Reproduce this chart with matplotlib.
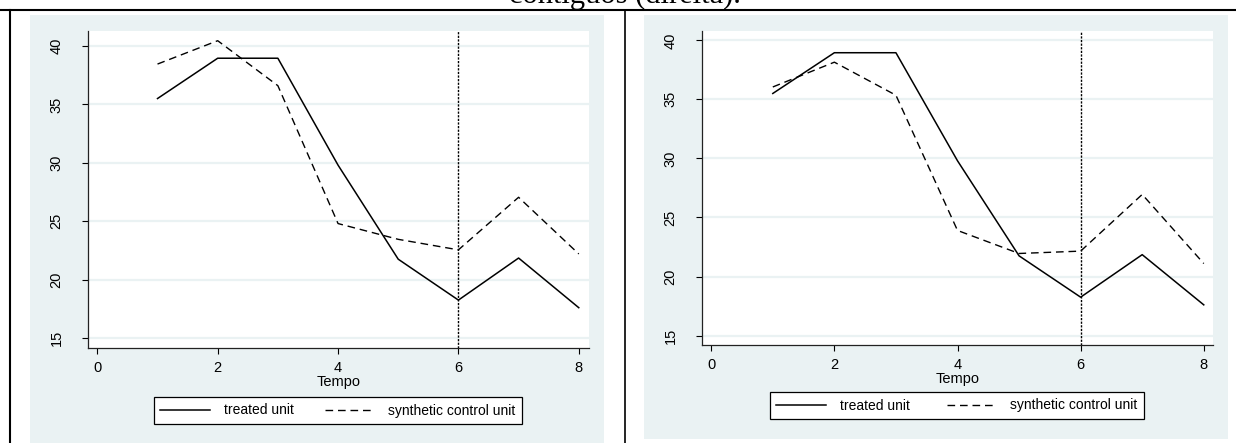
import matplotlib
matplotlib.use("Agg")
import matplotlib.pyplot as plt
from matplotlib.patches import Rectangle
from matplotlib.lines import Line2D

# data
tempo = [1, 2, 3, 4, 5, 6, 7, 8]
treated = [35.5, 38.95, 38.95, 29.8, 21.75, 18.25, 21.85, 17.6]
synth_left = [38.45, 40.45, 36.6, 24.8, 23.45, 22.55, 27.05, 22.2]
synth_right = [36.05, 38.15, 35.35, 23.9, 21.95, 22.15, 26.95, 21.1]
y_ticks = [15, 20, 25, 30, 35, 40]
x_ticks = [0, 2, 4, 6, 8]
intervention = 6
title_tail = "contíguos (direita)."

W, H = 1236, 443
BG = "#EAF2F3"

plt.rcParams['font.family'] = ['Liberation Sans', 'DejaVu Sans']

fig = plt.figure(figsize=(W / 100, H / 100), dpi=100)


def box(x0, y0, x1, y1):
    # pixel box (top-left origin) -> figure fraction rect
    return [x0 / W, 1 - y1 / H, (x1 - x0) / W, (y1 - y0) / H]


def panel(bg, plot_box, xlim, ylim, synth, leg_box):
    b = box(*bg)
    fig.patches.append(Rectangle((b[0], b[1]), b[2], b[3], transform=fig.transFigure,
                                 facecolor=BG, edgecolor='none', zorder=-5))
    ax = fig.add_axes(box(*plot_box))
    ax.set_facecolor('white')
    ax.plot(tempo, treated, color='black', lw=1.1, label='treated unit')
    ax.plot(tempo, synth, color='black', lw=1.0, linestyle=(0, (5.5, 3.5)),
            label='synthetic control unit')
    ax.axvline(intervention, color='black', lw=1.0, linestyle=(0, (1.6, 1.0)))
    ax.set_xlim(*xlim)
    ax.set_ylim(*ylim)
    ax.set_yticks(y_ticks)
    ax.set_xticks(x_ticks)
    ax.yaxis.grid(True, color=BG, lw=1.6)
    ax.set_axisbelow(True)
    for s in ['top', 'right']:
        ax.spines[s].set_visible(False)
    for s in ['left', 'bottom']:
        ax.spines[s].set_color('#222222')
        ax.spines[s].set_linewidth(0.9)
    ax.tick_params(axis='y', length=4.5, width=0.8, pad=13, labelsize=10.5, rotation=90)
    ax.tick_params(axis='x', length=4.5, width=0.8, pad=5, labelsize=10.5)
    for t in ax.get_yticklabels():
        t.set_va('center')
    ax.set_xlabel('Tempo', fontsize=10.5, labelpad=0)
    lb = box(*leg_box)
    leg = ax.legend(loc='center', bbox_to_anchor=lb, bbox_transform=fig.transFigure,
                    mode='expand', ncol=2, fontsize=10, frameon=True, fancybox=False,
                    edgecolor='black', framealpha=1, handlelength=3.6,
                    handletextpad=1.0, columnspacing=1.6, borderpad=0.45,
                    borderaxespad=0)
    leg.get_frame().set_linewidth(0.9)
    return ax


panel((30, 15, 604, 443), (88, 31, 589, 348), (-0.155, 8.17), (14.15, 41.28),
      synth_left, (154, 397, 522, 424))
panel((644, 15, 1228, 439), (702, 31, 1213, 345), (-0.15, 8.15), (14.2, 40.79),
      synth_right, (770, 392, 1144, 419))

# table borders of the document
for (x0, y0, x1, y1, lw) in [(0, 10, W, 10, 1.5), (10, 10, 10, H, 1.5),
                             (624.5, 10, 624.5, H, 1.2)]:
    fig.add_artist(Line2D([x0 / W, x1 / W], [1 - y0 / H, 1 - y1 / H],
                          transform=fig.transFigure, color='black', lw=lw))

# caption text, cut off at the top as in the source page
fig.text(625 / W, 1 - 3 / H, title_tail, family='Liberation Serif', fontsize=22,
         ha='center', va='baseline')

fig.savefig("out.png", dpi=100)
